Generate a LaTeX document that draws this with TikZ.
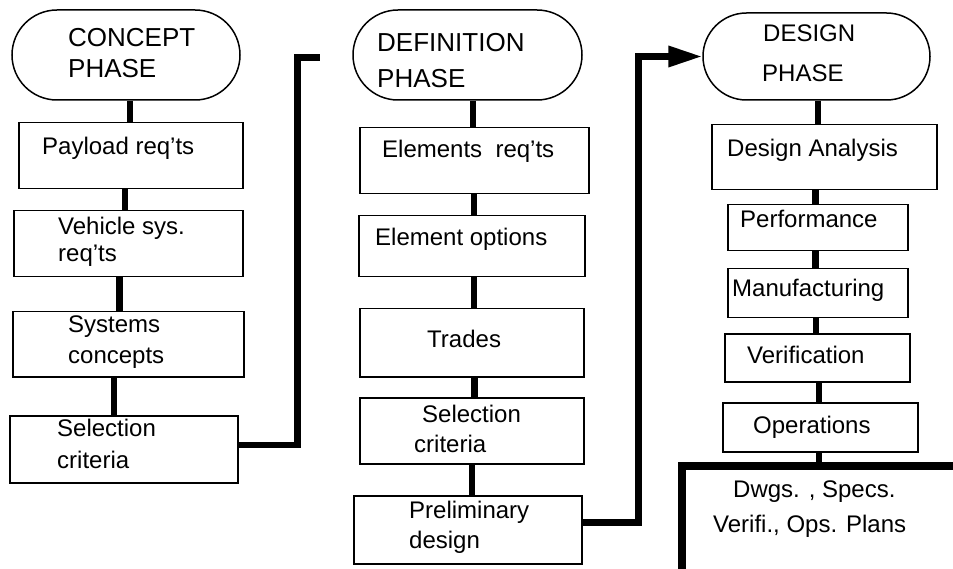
\documentclass[tikz,border=0pt]{standalone}
\usepackage{fontspec}
\setmainfont{Liberation Sans}
\usetikzlibrary{shapes.misc,arrows.meta}
\begin{document}
\begin{tikzpicture}[x=1pt,y=-1pt,
  box/.style={draw, line width=1.5pt, rectangle, anchor=north west, inner sep=0pt},
  phase/.style={draw, line width=1.5pt, rounded rectangle, inner sep=0pt},
  txt/.style={anchor=base west, inner sep=0pt, font=\fontsize{24}{28}\selectfont},
  bigtxt/.style={txt, font=\fontsize{26}{30}\selectfont},
  conn/.style={line width=6.5pt},
  frameline/.style={line width=7.5pt}]
\useasboundingbox (0,0) rectangle (953,569);

% ---------- Concept column ----------
\node[phase, minimum width=228pt, minimum height=90pt] (cph) at (126,55) {};
\node[box, minimum width=224pt, minimum height=66pt] (pay) at (18,122) {};
\node[box, minimum width=229pt, minimum height=66pt] (veh) at (13,210) {};
\node[box, minimum width=231pt, minimum height=65pt] (sys) at (12,311) {};
\node[box, minimum width=228pt, minimum height=67pt] (sela) at (9,415) {};

\node[bigtxt] (tcph1) at (68,47) {CONCEPT};
\node[bigtxt] (tcph2) at (68,78) {PHASE};
\node[txt] (tpay) at (42,155) {Payload req'ts};
\node[txt] (tveh1) at (58,235) {Vehicle sys.};
\node[txt] (tveh2) at (58,262) {req'ts};
\node[txt] (tsys1) at (68,332) {Systems};
\node[txt] (tsys2) at (68,363) {concepts};
\node[txt] (tsela1) at (57,436) {Selection};
\node[txt] (tsela2) at (57,468) {criteria};

\draw[conn] ([xshift=4pt]cph.south) -- ([xshift=4pt]cph.south |- pay.north);
\draw[conn] ([xshift=-6pt]pay.south) -- ([xshift=-6pt]pay.south |- veh.north);
\draw[conn] ([xshift=-9pt]veh.south) -- ([xshift=-9pt]veh.south |- sys.north);
\draw[conn] ([xshift=-14.5pt]sys.south) -- ([xshift=-14.5pt]sys.south |- sela.north);

\coordinate (ja) at (297.5,57.5);
\coordinate (ea) at (320,57.5);
\draw[conn] ([yshift=4.5pt]sela.east) -| (ja) -- (ea);

% ---------- Definition column ----------
\node[phase, minimum width=229pt, minimum height=90pt] (dph) at (467.5,55) {};
\node[box, minimum width=229pt, minimum height=66pt] (ele) at (359,127) {};
\node[box, minimum width=226pt, minimum height=61pt] (opt) at (358,215) {};
\node[box, minimum width=224pt, minimum height=68pt] (trd) at (359,308) {};
\node[box, minimum width=224pt, minimum height=66pt] (selb) at (359,397) {};
\node[box, minimum width=228pt, minimum height=68pt] (pre) at (353,495) {};

\node[bigtxt] (tdph1) at (377,52) {DEFINITION};
\node[bigtxt] (tdph2) at (377,88) {PHASE};
\node[txt] (tele) at (382,158) {Elements\ \ req'ts};
\node[txt] (topt) at (375,246) {Element options};
\node[txt] (ttrd) at (427,348) {Trades};
\node[txt] (tselb1) at (422,422) {Selection};
\node[txt] (tselb2) at (414,452) {criteria};
\node[txt] (tpre1) at (409,518) {Preliminary};
\node[txt] (tpre2) at (409,548) {design};

\draw[conn] ([xshift=5.5pt]dph.south) -- ([xshift=5.5pt]dph.south |- ele.north);
\draw[conn] ([xshift=-0.5pt]ele.south) -- ([xshift=-0.5pt]ele.south |- opt.north);
\draw[conn] ([xshift=2pt]opt.south) -- ([xshift=2pt]opt.south |- trd.north);
\draw[conn] ([xshift=2.5pt]trd.south) -- ([xshift=2.5pt]trd.south |- selb.north);
\draw[conn] (selb.south) -- (selb.south |- pre.north);

% ---------- Design column ----------
\node[phase, minimum width=227pt, minimum height=87pt] (gph) at (816.5,56.5) {};
\node[box, minimum width=225pt, minimum height=65pt] (dan) at (711,124) {};
\node[box, minimum width=180pt, minimum height=46pt] (per) at (727,204) {};
\node[box, minimum width=180pt, minimum height=49pt] (man) at (727,268) {};
\node[box, minimum width=185pt, minimum height=48pt] (ver) at (724,333) {};
\node[box, minimum width=195pt, minimum height=49pt] (ops) at (722,402) {};

\node[txt, font=\fontsize{24}{28}\selectfont] (tgph1) at (763,42) {DESIGN};
\node[txt] (tgph2) at (762,82) {PHASE};
\node[txt] (tdan) at (727,157) {Design Analysis};
\node[txt] (tper) at (740,228) {Performance};
\node[txt] (tman) at (732,297) {Manufacturing};
\node[txt] (tver) at (747,363) {Verification};
\node[txt] (tops) at (753,433) {Operations};
\node[txt] (tout1) at (733,497) {Dwgs. , Specs.};
\node[txt] (tout2) at (713,532) {Verifi., Ops. Plans};

\draw[conn] ([xshift=1.5pt]gph.south) -- ([xshift=1.5pt]gph.south |- dan.north);
\draw[conn] ([xshift=-9pt]dan.south) -- ([xshift=-9pt]dan.south |- per.north);
\draw[conn] ([xshift=-2.5pt]per.south) -- ([xshift=-2.5pt]per.south |- man.north);
\draw[conn] ([xshift=-2pt]man.south) -- ([xshift=-2pt]man.south |- ver.north);
\draw[conn] ([xshift=1.5pt]ver.south) -- ([xshift=1.5pt]ver.south |- ops.north);

\coordinate (fr) at (682,466);
\coordinate (frb) at (682,575);
\coordinate (frr) at (960,466);
\draw[frameline] (frb) -- (fr) -- (frr);
\draw[conn] ([xshift=-1.5pt]ops.south) -- ([xshift=-1.5pt]ops.south |- fr);

% ---------- Definition -> Design ----------
\coordinate (jb) at (638.5,56.5);
\draw[conn, -{Triangle[length=34pt,width=20pt]}] ([yshift=7.5pt]pre.east) -| (jb) -- (gph.west);
\end{tikzpicture}
\end{document}
